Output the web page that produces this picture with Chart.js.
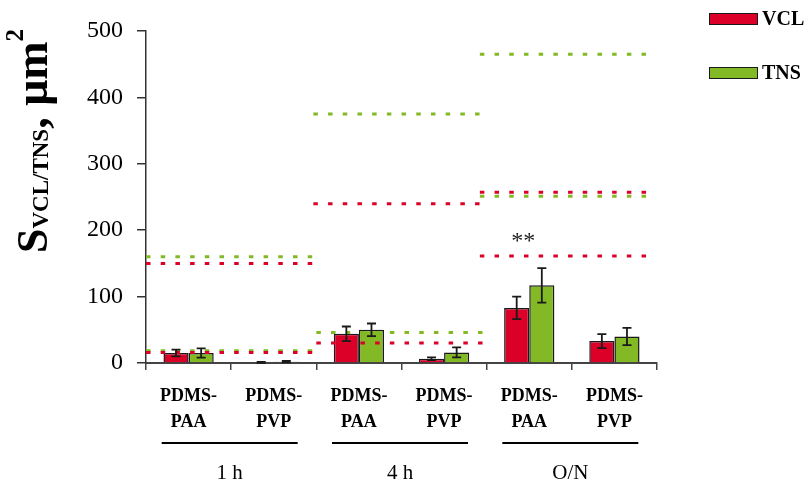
<!DOCTYPE html>
<html><head><meta charset="utf-8">
<script src="https://cdn.jsdelivr.net/npm/chart.js@4"></script>
<style>html,body{margin:0;padding:0;background:#fff;}</style>
</head><body>
<canvas id="c" width="809" height="485"></canvas>
<script>
// ---- data ----
const categories = [['PDMS-','PAA'],['PDMS-','PVP'],['PDMS-','PAA'],['PDMS-','PVP'],['PDMS-','PAA'],['PDMS-','PVP']];
const groupLabels = ['1 h','4 h','O/N'];
const seriesNames = ['VCL','TNS'];
const vclValues = [15, 1, 44, 6.5, 83, 33];
const vclErrors = [5, 0.6, 11, 2, 17, 10.5];
const tnsValues = [15, 2, 50, 16, 117, 40];
const tnsErrors = [7, 1, 9.5, 7.5, 26, 13];
const yTicks = [0, 100, 200, 300, 400, 500];
// dotted reference levels per time group
const vclRefHigh = [150, 240, 257];
const tnsRefHigh = [160, 375, 465];
const vclRefLow  = [16, 30, 161];
const tnsRefLow  = [18.5, 46, 251];
// extent of each reference level along the category axis (in category widths)
const refHighFrom = [0, 1.965, 3.92];
const refHighTo   = [1.97, 3.93, 5.9];
const refLowFrom  = [0, 2, 3.92];
const refLowTo    = [2, 4, 5.9];
const sigMarks = [{index: 4, value: 190, text: '**'}];

// ---- style ----
const RED = '#DC0028', GREEN = '#82B924', INK = '#1a1a1a';
const SERIF = "'Liberation Serif', 'Times New Roman', serif";

const datasets = [
  {label:seriesNames[0], data:vclValues, backgroundColor:RED, borderColor:INK, borderWidth:1.5},
  {label:seriesNames[1], data:tnsValues, backgroundColor:GREEN, borderColor:INK, borderWidth:1.5}
];

const extras = {
  id:'extras',
  afterDatasetsDraw(chart){
    const c = chart.ctx, x = chart.scales.x, y = chart.scales.y;
    const n = categories.length;
    const ca = chart.chartArea;
    // dotted reference levels
    c.save();
    c.beginPath(); c.rect(ca.left - 2, ca.top - 4, ca.right - ca.left + 4, ca.bottom - ca.top + 4); c.clip();
    c.lineWidth = 3; c.setLineDash([4.5, 10.2]); c.lineCap = 'butt';
    const seg = (level, from, to, color) => {
      const py = y.getPixelForValue(level);
      c.strokeStyle = color; c.beginPath();
      c.moveTo(x.getPixelForDecimal(from / n), py); c.lineTo(x.getPixelForDecimal(to / n), py); c.stroke();
    };
    for (let g = 0; g < groupLabels.length; g++) {
      seg(tnsRefHigh[g], refHighFrom[g], refHighTo[g], GREEN);
      seg(vclRefHigh[g], refHighFrom[g], refHighTo[g], RED);
      seg(tnsRefLow[g], refLowFrom[g], refLowTo[g], GREEN);
      seg(vclRefLow[g], refLowFrom[g], refLowTo[g], RED);
    }
    c.restore();
    // error bars
    const errs = [vclErrors, tnsErrors], vals = [vclValues, tnsValues];
    c.save();
    c.strokeStyle = INK; c.lineWidth = 1.8;
    for (let d = 0; d < 2; d++) {
      const meta = chart.getDatasetMeta(d);
      meta.data.forEach((bar, i) => {
        const v = vals[d][i], e = errs[d][i];
        const yt = y.getPixelForValue(v + e), yb = y.getPixelForValue(Math.max(0, v - e));
        c.beginPath();
        c.moveTo(bar.x, yt); c.lineTo(bar.x, yb);
        c.moveTo(bar.x - 4.5, yt); c.lineTo(bar.x + 4.5, yt);
        c.moveTo(bar.x - 4.5, yb); c.lineTo(bar.x + 4.5, yb);
        c.stroke();
      });
    }
    c.restore();
  },
  afterDraw(chart){
    const c = chart.ctx, x = chart.scales.x, y = chart.scales.y;
    c.save();
    // significance marks
    c.fillStyle = '#222'; c.font = '24px ' + SERIF; c.textAlign = 'center'; c.textBaseline = 'alphabetic';
    sigMarks.forEach(m => {
      c.fillText(m.text, x.getPixelForValue(m.index) - 6, y.getPixelForValue(m.value) + 11);
    });
    // group underlines + labels
    c.fillStyle = '#000'; c.strokeStyle = '#000'; c.lineWidth = 2;
    groupLabels.forEach((g, k) => {
      const cx = (x.getPixelForValue(2*k) + x.getPixelForValue(2*k+1)) / 2 - 1.5;
      c.beginPath(); c.moveTo(cx - 68, 443); c.lineTo(cx + 68, 443); c.stroke();
      c.font = '21px ' + SERIF; c.textAlign = 'center'; c.textBaseline = 'middle';
      c.fillText(g, cx, 473);
    });
    // legend
    const colors = [RED, GREEN], ly = [19, 73];
    seriesNames.forEach((nm, k) => {
      c.fillStyle = colors[k]; c.fillRect(709, ly[k] - 6, 49, 12);
      c.strokeStyle = INK; c.lineWidth = 1; c.strokeRect(709.5, ly[k] - 5.5, 48, 11);
      c.fillStyle = '#000'; c.font = 'bold 20px ' + SERIF; c.textAlign = 'left'; c.textBaseline = 'middle';
      c.fillText(nm, 762, ly[k] + 1);
    });
    // rotated y-axis title
    c.translate(47, 253); c.rotate(-Math.PI / 2);
    c.textAlign = 'left'; c.textBaseline = 'alphabetic'; c.fillStyle = '#000';
    const runs = [
      {t:'S', f:'bold 44px ', dy:0},
      {t:'VCL/TNS', f:'bold 23px ', dy:1},
      {t:', μm', f:'bold 46px ', dy:0},
      {t:'2', f:'bold 25px ', dy:-24}
    ];
    let px = 0;
    runs.forEach(r => { c.font = r.f + SERIF; c.fillText(r.t, px, r.dy); px += c.measureText(r.t).width; });
    c.restore();
  }
};

new Chart(document.getElementById('c'), {
  type:'bar',
  data:{labels:categories, datasets},
  options:{
    responsive:false, animation:false,
    layout:{padding:{left:0, right:152, top:31, bottom:0}},
    datasets:{bar:{categoryPercentage:0.59, barPercentage:1.0}},
    plugins:{legend:{display:false}, tooltip:{enabled:false}},
    scales:{
      x:{type:'category', offset:true,
        grid:{offset:true, drawOnChartArea:false, drawTicks:true, tickLength:7, color:'#444', lineWidth:1.5},
        border:{color:'#444', width:2},
        ticks:{font:{family:SERIF, size:18, weight:'bold', lineHeight:1.45}, color:'#000', padding:13, maxRotation:0, autoSkip:false},
        afterFit(s){ s.height = 122; }},
      y:{min:0, max:500,
        afterBuildTicks(s){ s.ticks = yTicks.map(v => ({value:v})); },
        ticks:{font:{family:SERIF, size:24}, color:'#000', padding:14},
        grid:{drawOnChartArea:false, drawTicks:true, tickLength:9, color:'#333', lineWidth:1.5},
        border:{color:'#333', width:1.5},
        afterFit(s){ s.width = 146; }}
    }
  },
  plugins:[extras]
});
</script>
</body></html>
